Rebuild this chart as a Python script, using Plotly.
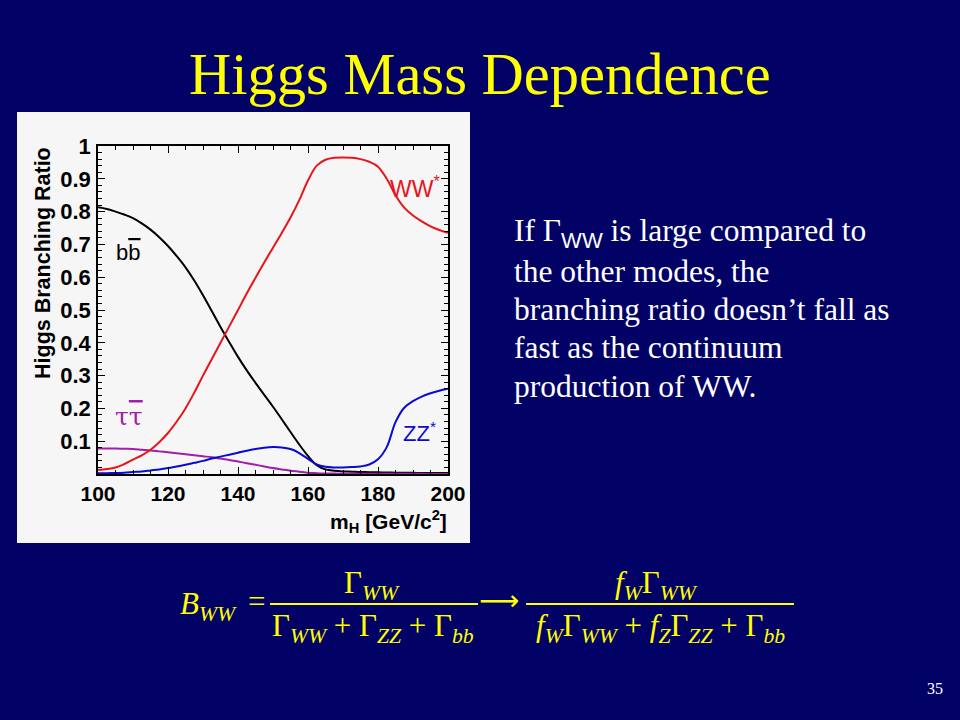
import plotly.graph_objects as go

# ---------------- data ----------------
mass = [100, 102.5, 105, 107.5, 110, 112.5, 115, 117.5, 120, 122.5,
        125, 127.5, 130, 132.5, 135, 137.5, 140, 142.5, 145, 147.5,
        150, 152.5, 155, 157.5, 160, 162.5, 165, 167.5, 170, 172.5,
        175, 177.5, 180, 182.5, 185, 187.5, 190, 192.5, 195, 197.5, 200]

br_bb = [0.813, 0.808, 0.800, 0.791, 0.780, 0.764, 0.745, 0.722, 0.695, 0.664,
         0.630, 0.590, 0.545, 0.497, 0.448, 0.402, 0.357, 0.316, 0.278, 0.241,
         0.205, 0.167, 0.128, 0.090, 0.055, 0.027, 0.014, 0.010, 0.008, 0.007,
         0.006, 0.0055, 0.005, 0.0045, 0.004, 0.0038, 0.0035, 0.0033, 0.003, 0.003, 0.003]

br_ww = [0.012, 0.015, 0.020, 0.030, 0.044, 0.057, 0.074, 0.097, 0.125, 0.160,
         0.200, 0.248, 0.300, 0.350, 0.400, 0.450, 0.500, 0.550, 0.598, 0.645,
         0.690, 0.735, 0.782, 0.835, 0.895, 0.940, 0.958, 0.964, 0.965, 0.964,
         0.960, 0.952, 0.937, 0.900, 0.850, 0.812, 0.788, 0.770, 0.755, 0.744, 0.735]

br_zz = [0.002, 0.0025, 0.003, 0.004, 0.006, 0.008, 0.011, 0.014, 0.018, 0.023,
         0.028, 0.034, 0.040, 0.047, 0.053, 0.059, 0.065, 0.071, 0.076, 0.080,
         0.082, 0.081, 0.076, 0.064, 0.046, 0.029, 0.022, 0.020, 0.020, 0.021,
         0.023, 0.029, 0.045, 0.082, 0.158, 0.202, 0.222, 0.236, 0.246, 0.254, 0.260]

br_tt = [0.078, 0.078, 0.078, 0.077, 0.076, 0.074, 0.072, 0.069, 0.066, 0.063,
         0.060, 0.057, 0.054, 0.051, 0.047, 0.043, 0.038, 0.033, 0.028, 0.023,
         0.018, 0.014, 0.010, 0.007, 0.004, 0.0025, 0.0015, 0.0012, 0.001, 0.0009,
         0.0008, 0.0007, 0.0006, 0.0005, 0.0005, 0.0004, 0.0004, 0.0004, 0.0003, 0.0003, 0.0003]

y_tickvals = [0.1, 0.2, 0.3, 0.4, 0.5, 0.6, 0.7, 0.8, 0.9, 1.0]
y_ticktext = ["0.1", "0.2", "0.3", "0.4", "0.5", "0.6", "0.7", "0.8", "0.9", "1"]
x_tickvals = [100, 120, 140, 160, 180, 200]
x_ticktext = ["100", "120", "140", "160", "180", "200"]

# ---------------- layout helpers ----------------
W, H = 960, 720
PL, PR, PT, PB = 98, 448, 146, 474   # plot area in pixels


def xp(px):
    return (px - PL) / (PR - PL)


def yp(py):
    return (PB - py) / (PB - PT)


NAVY = "#020266"
YELLOW = "#ffff00"
RED = "#e8141c"
BLUE = "#0a0ad2"
PURPLE = "#a01eaa"
SANS = "Liberation Sans, Arial, sans-serif"
SERIF = "Liberation Serif, Times New Roman, serif"

fig = go.Figure()
line_kw = dict(shape="spline", smoothing=1.0)
fig.add_trace(go.Scatter(x=mass, y=br_bb, mode="lines", line=dict(color="black", width=2, **line_kw), name="bb"))
fig.add_trace(go.Scatter(x=mass, y=br_tt, mode="lines", line=dict(color=PURPLE, width=2, **line_kw), name="tautau"))
fig.add_trace(go.Scatter(x=mass, y=br_zz, mode="lines", line=dict(color=BLUE, width=2, **line_kw), name="ZZ*"))
fig.add_trace(go.Scatter(x=mass, y=br_ww, mode="lines", line=dict(color=RED, width=2, **line_kw), name="WW*"))

shapes = [
    # light chart panel
    dict(type="rect", xref="paper", yref="paper", x0=xp(17), x1=xp(470), y0=yp(543), y1=yp(112),
         fillcolor="#f6f6f6", line=dict(width=0), layer="below"),
    # fraction bars
    dict(type="line", xref="paper", yref="paper", x0=xp(270), x1=xp(478), y0=yp(604), y1=yp(604),
         line=dict(color=YELLOW, width=2)),
    dict(type="line", xref="paper", yref="paper", x0=xp(526), x1=xp(794), y0=yp(604), y1=yp(604),
         line=dict(color=YELLOW, width=2)),
]

ann = []


def A(text, x, y, size, color, family, xanchor="center", yanchor="middle", **kw):
    ann.append(dict(text=text, x=xp(x), y=yp(y), xref="paper", yref="paper", showarrow=False,
                    xanchor=xanchor, yanchor=yanchor, font=dict(size=size, color=color, family=family), **kw))


# title
A("Higgs Mass Dependence", 480, 74, 58.5, YELLOW, SERIF)

# axis titles
A("<b>Higgs Branching Ratio</b>", 43, 263, 21.5, "black", SANS, textangle=-90)
A("<b>m<sub>H</sub> [GeV/c<sup>2</sup>]</b>", 449, 521, 21, "black", SANS, xanchor="right")

# curve labels (data coordinates)
for txt, x, y, col, fam, sz in [
    ("b<span style='text-decoration:overline'>b</span>", 108.8, 0.674, "black", SANS, 22),
    ("τ<span style='text-decoration:overline'>τ</span>", 108.8, 0.174, PURPLE, "DejaVu Serif, serif", 25),
    ("WW<sup>*</sup>", 190.5, 0.875, RED, SANS, 23),
    ("ZZ<sup>*</sup>", 191.8, 0.128, BLUE, SANS, 22),
]:
    ann.append(dict(text=txt, x=x, y=y, xref="x", yref="y", showarrow=False,
                    font=dict(size=sz, color=col, family=fam)))

# side text
side_lines = [
    "If Γ<sub><span style='font-family:Liberation Sans'>WW</span></sub> is large compared to",
    "the other modes, the",
    "branching ratio doesn’t fall as",
    "fast as the continuum",
    "production of WW.",
]
for i, t in enumerate(side_lines):
    A(t, 512, 233 + i * 38.3, 31.5, "white", SERIF, xanchor="left")

# formula
A("<i>B</i><sub><i>WW</i></sub>", 178, 606, 31, YELLOW, SERIF, xanchor="left")
A("=", 256, 601, 31, YELLOW, SERIF)
A("Γ<sub><i>WW</i></sub>", 372, 585, 31, YELLOW, SERIF)
A("Γ<sub><i>WW</i></sub> + Γ<sub><i>ZZ</i></sub> + Γ<sub><i>bb</i></sub>", 373, 628, 31, YELLOW, SERIF)
A("⟶", 499, 600, 28, YELLOW, "DejaVu Sans, sans-serif")
A("<i>f</i><sub><i>W</i></sub>Γ<sub><i>WW</i></sub>", 656, 585, 31, YELLOW, SERIF)
A("<i>f</i><sub><i>W</i></sub>Γ<sub><i>WW</i></sub> + <i>f</i><sub><i>Z</i></sub>Γ<sub><i>ZZ</i></sub> + Γ<sub><i>bb</i></sub>",
  660, 628, 31, YELLOW, SERIF)

# page number
A("35", 935, 688, 16, "white", SERIF)

axis_common = dict(showline=True, linecolor="black", linewidth=1.5, mirror="ticks", ticks="inside",
                   tickcolor="black", tickwidth=1, ticklen=7, showgrid=False, zeroline=False)

fig.update_layout(
    width=W, height=H,
    margin=dict(l=PL, r=W - PR, t=PT, b=H - PB, pad=0),
    paper_bgcolor=NAVY, plot_bgcolor="#f8f8f8",
    showlegend=False,
    shapes=shapes, annotations=ann,
    xaxis=dict(range=[100, 200], tickvals=x_tickvals, ticktext=x_ticktext, ticklabelstandoff=0,
               tickfont=dict(family=SANS, size=21, color="black", weight="bold"),
               minor=dict(dtick=5, tick0=100, ticks="inside", ticklen=4, tickcolor="black"),
               **axis_common),
    yaxis=dict(range=[0, 1], tickvals=y_tickvals, ticktext=y_ticktext, ticklabelstandoff=1,
               tickfont=dict(family=SANS, size=22, color="black", weight="bold"),
               minor=dict(dtick=0.02, tick0=0, ticks="inside", ticklen=4, tickcolor="black"),
               **axis_common),
)

fig.write_html("out.html", config={"displayModeBar": False},
               post_script="document.body.style.margin='0';document.body.style.background='#020266';")
